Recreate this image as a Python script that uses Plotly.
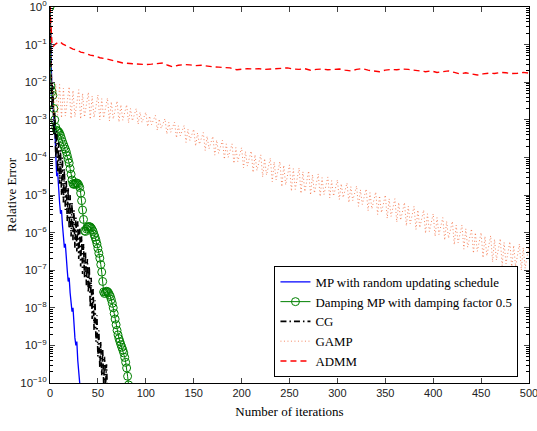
import plotly.graph_objects as go

# ---------------- data (log10 of relative error) ----------------
mp_iter = list(range(0, 33))
mp_log = [0, -1.6, -2.3, -2.6, -2.9, -3.2, -3.9, -4.5, -4.4, -4.9, -5.2, -5.5, -5.4,
          -5.8, -6.1, -6.4, -6.3, -6.8, -7.0, -7.3, -7.2, -7.6, -7.9, -8.1, -8.0,
          -8.5, -8.8, -9.0, -8.9, -9.4, -9.7, -10.0, -10.3]

dmp_iter = list(range(0, 83))
dmp_log = [0, -2.1, -2.25, -2.35, -2.7, -3.0, -3.2, -3.28, -3.3, -3.32, -3.36, -3.42,
           -3.5, -3.58, -3.65, -3.72, -3.78, -3.85, -3.95, -4.05, -4.15, -4.3, -4.45,
           -4.6, -4.7, -4.72, -4.7, -4.68, -4.68, -4.7, -4.74, -4.8, -4.95, -5.15,
           -5.4, -5.65, -5.95, -5.97, -5.9, -5.86, -5.84, -5.84, -5.85, -5.88, -5.92,
           -5.97, -6.05, -6.12, -6.2, -6.3, -6.42, -6.55, -6.68, -6.85, -7.05, -7.3,
           -7.58, -7.62, -7.58, -7.56, -7.57, -7.6, -7.65, -7.7, -7.78, -7.88, -8.0,
           -8.15, -8.3, -8.45, -8.6, -8.72, -8.82, -8.9, -8.98, -9.05, -9.12, -9.2,
           -9.32, -9.45, -9.6, -9.82, -10.05]

cg_iter = list(range(0, 61))
cg_log = [0, -1.8, -2.7, -2.1, -3.4, -2.8, -4.0, -3.3, -4.4, -3.6, -4.7, -3.8, -5.0,
          -4.0, -5.2, -4.3, -5.4, -4.6, -5.7, -4.8, -5.9, -5.0, -6.1, -5.2, -6.2,
          -5.4, -6.4, -5.6, -6.5, -5.7, -6.7, -5.9, -6.9, -6.1, -7.1, -6.3, -7.2,
          -6.5, -7.4, -6.7, -7.6, -6.9, -8.0, -7.2, -8.3, -7.5, -8.6, -7.8, -8.9,
          -8.2, -9.3, -8.6, -9.6, -8.9, -9.8, -9.1, -10.0, -9.3, -10.1, -9.5, -10.3]

gamp_iter = list(range(0, 501, 2))
gamp_log = [0, -2.0, -2.9, -2.05, -2.88,
            -2.06, -2.95, -2.16, -2.90, -2.50,
            -2.12, -2.97, -2.22, -2.92, -2.55,
            -2.20, -2.98, -2.30, -2.93, -2.60,
            -2.27, -2.99, -2.37, -2.94, -2.63,
            -2.34, -3.00, -2.44, -2.95, -2.67,
            -2.42, -3.03, -2.52, -2.98, -2.72,
            -2.50, -3.06, -2.60, -3.01, -2.78,
            -2.60, -3.08, -2.70, -3.03, -2.84,
            -2.70, -3.12, -2.80, -3.07, -2.91,
            -2.80, -3.18, -2.90, -3.13, -2.99,
            -2.88, -3.28, -2.98, -3.23, -3.08,
            -2.97, -3.38, -3.07, -3.33, -3.17,
            -3.06, -3.48, -3.16, -3.43, -3.27,
            -3.15, -3.60, -3.25, -3.55, -3.37,
            -3.25, -3.70, -3.35, -3.65, -3.47,
            -3.34, -3.82, -3.44, -3.77, -3.58,
            -3.44, -3.94, -3.54, -3.89, -3.69,
            -3.54, -4.05, -3.64, -4.00, -3.79,
            -3.64, -4.16, -3.74, -4.11, -3.90,
            -3.74, -4.28, -3.84, -4.23, -4.01,
            -3.83, -4.40, -3.93, -4.35, -4.11,
            -3.93, -4.52, -4.03, -4.47, -4.22,
            -4.02, -4.65, -4.12, -4.60, -4.33,
            -4.11, -4.78, -4.21, -4.73, -4.44,
            -4.20, -4.90, -4.30, -4.85, -4.55,
            -4.28, -4.96, -4.38, -4.91, -4.62,
            -4.36, -5.00, -4.46, -4.95, -4.68,
            -4.44, -5.04, -4.54, -4.99, -4.74,
            -4.52, -5.08, -4.62, -5.03, -4.80,
            -4.60, -5.12, -4.70, -5.07, -4.86,
            -4.68, -5.20, -4.78, -5.15, -4.94,
            -4.76, -5.30, -4.86, -5.25, -5.03,
            -4.84, -5.42, -4.94, -5.37, -5.13,
            -4.92, -5.52, -5.02, -5.47, -5.22,
            -5.00, -5.62, -5.10, -5.57, -5.31,
            -5.10, -5.72, -5.20, -5.67, -5.41,
            -5.20, -5.82, -5.30, -5.77, -5.51,
            -5.30, -5.92, -5.40, -5.87, -5.61,
            -5.40, -6.02, -5.50, -5.97, -5.71,
            -5.50, -6.10, -5.60, -6.05, -5.80,
            -5.60, -6.20, -5.70, -6.15, -5.90,
            -5.70, -6.32, -5.80, -6.27, -6.01,
            -5.80, -6.44, -5.90, -6.39, -6.12,
            -5.90, -6.55, -6.00, -6.50, -6.22,
            -6.00, -6.67, -6.10, -6.62, -6.33,
            -6.08, -6.78, -6.18, -6.73, -6.43,
            -6.16, -6.88, -6.26, -6.83, -6.52,
            -6.24, -6.95, -6.34, -6.90, -6.59,
            -6.30, -7.00, -6.40, -6.95, -6.65,
            -6.35]

admm_iter = [0, 1, 2, 3, 5, 8, 11, 13, 16, 20, 24, 28, 32, 36, 42, 47, 52, 59, 64, 70,
             76, 82, 88, 94, 100, 106, 112, 118, 123, 128, 134, 140, 146, 152, 158,
             164, 170, 176, 182, 188, 195, 200, 206, 212, 218, 224, 230, 236, 242,
             248, 254, 260, 266, 272, 278, 284, 290, 296, 302, 308, 314, 320, 326,
             332, 338, 344, 350, 356, 362, 368, 374, 380, 386, 392, 398, 404, 410,
             416, 422, 428, 434, 440, 446, 452, 458, 464, 470, 476, 482, 488, 494, 500]
admm_log = [0, -0.7, -0.95, -1.06, -1.0, -0.95, -0.93, -0.98, -1.02, -1.08, -1.12,
            -1.14, -1.2, -1.22, -1.28, -1.3, -1.35, -1.38, -1.42, -1.45, -1.49, -1.5,
            -1.51, -1.52, -1.53, -1.52, -1.5, -1.49, -1.55, -1.59, -1.55, -1.53,
            -1.54, -1.56, -1.55, -1.58, -1.59, -1.6, -1.62, -1.62, -1.67, -1.65,
            -1.64, -1.65, -1.64, -1.66, -1.65, -1.63, -1.64, -1.62, -1.65, -1.66,
            -1.64, -1.68, -1.66, -1.65, -1.67, -1.66, -1.65, -1.68, -1.7, -1.66,
            -1.64, -1.68, -1.7, -1.72, -1.68, -1.66, -1.67, -1.65, -1.66, -1.68,
            -1.7, -1.72, -1.7, -1.74, -1.72, -1.7, -1.74, -1.78, -1.75, -1.78,
            -1.81, -1.78, -1.76, -1.77, -1.74, -1.75, -1.77, -1.76, -1.74, -1.76]

x_ticks = [0, 50, 100, 150, 200, 250, 300, 350, 400, 450, 500]
y_exponents = [0, -1, -2, -3, -4, -5, -6, -7, -8, -9, -10]
y_ticktext = ["10<sup>%s</sup>" % (str(e).replace("-", "\u2212")) for e in y_exponents]

names = ["MP with random updating schedule", "Damping MP with damping factor 0.5",
         "CG", "GAMP", "ADMM"]


def tolin(vals):
    return [10 ** v for v in vals]


fig = go.Figure()
fig.add_trace(go.Scatter(x=mp_iter, y=tolin(mp_log), mode="lines", name=names[0],
                         line=dict(color="#0000ff", width=1.3)))
fig.add_trace(go.Scatter(x=dmp_iter, y=tolin(dmp_log), mode="lines+markers", name=names[1],
                         line=dict(color="#008000", width=1),
                         marker=dict(symbol="circle-open", size=8, color="#008000",
                                     line=dict(width=1, color="#008000"))))
fig.add_trace(go.Scatter(x=cg_iter, y=tolin(cg_log), mode="lines", name=names[2],
                         line=dict(color="black", width=1.6, dash="6px,3px,1.5px,3px")))
fig.add_trace(go.Scatter(x=gamp_iter, y=tolin(gamp_log), mode="lines", name=names[3],
                         line=dict(color="#f26a3c", width=0.8, dash="1px,2.5px")))
fig.add_trace(go.Scatter(x=admm_iter, y=tolin(admm_log), mode="lines", name=names[4],
                         line=dict(color="#ff0000", width=1.4, dash="6px,4px")))

minor_vals = [m * 10 ** e for e in range(-10, 0) for m in range(2, 10)]

fig.update_layout(
    width=537, height=431,
    margin=dict(l=50, r=8, t=7, b=48),
    paper_bgcolor="white", plot_bgcolor="white",
    font=dict(family="Liberation Sans", size=11, color="black"),
    showlegend=True,
    legend=dict(x=0.978, y=0.016, xanchor="right", yanchor="bottom",
                bgcolor="white", bordercolor="black", borderwidth=1,
                font=dict(family="Liberation Serif", size=12.9, color="black"),
                tracegroupgap=0, itemwidth=30),
)
fig.update_xaxes(range=[0, 500], tickvals=x_ticks, ticks="inside", ticklen=5,
                 showline=True, linecolor="black", linewidth=1, mirror="ticks",
                 showgrid=False, zeroline=False, ticklabeloverflow="allow",
                 automargin=False,
                 tickfont=dict(family="Liberation Sans", size=11, color="#222"),
                 title=dict(text="Number of iterations", standoff=8,
                            font=dict(family="Liberation Serif", size=13, color="black")))
fig.update_yaxes(type="log", range=[-10, 0],
                 tickvals=[10 ** e for e in y_exponents], ticktext=y_ticktext,
                 ticks="inside", ticklen=5, ticklabeloverflow="allow",
                 automargin=False,
                 minor=dict(tickmode="array", tickvals=minor_vals, ticks="inside",
                            ticklen=3, tickcolor="black", showgrid=False),
                 showline=True, linecolor="black", linewidth=1, mirror="ticks",
                 showgrid=False, zeroline=False,
                 tickfont=dict(family="Liberation Sans", size=11.5, color="#222"),
                 title=dict(text="Relative Error", standoff=0,
                            font=dict(family="Liberation Serif", size=13, color="black")))

fig.write_html("out.html", config={"displayModeBar": False},
               post_script="document.body.style.margin='0';document.body.style.overflow='hidden';")
